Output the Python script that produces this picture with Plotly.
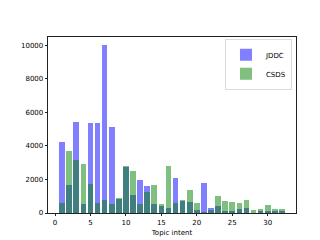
import plotly.graph_objects as go

topics = list(range(1, 33))
jddc = [4240, 1650, 5455, 530, 5358, 5358, 10000, 5130, 810, 2760,
        1095, 1950, 1600, 528, 430, 320, 2060, 700, 640, 205,
        1790, 285, 390, 130, 100, 210, 275, 30, 100, 115, 100, 130]
csds = [625, 3670, 3160, 2915, 1740, 585, 775, 528, 870, 2820,
        2535, 528, 1230, 1665, 510, 2820, 585, 755, 1380, 575,
        80, 170, 1040, 700, 640, 585, 795, 190, 250, 455, 255, 265]
x_ticks = [0, 5, 10, 15, 20, 25, 30]
y_ticks = [0, 2000, 4000, 6000, 8000, 10000]
y_labels = [str(v) for v in y_ticks]

fig = go.Figure()
fig.add_trace(go.Bar(x=topics, y=jddc, name="JDDC", width=0.8,
                     marker=dict(color="rgba(0,0,255,0.5)", line=dict(width=0))))
fig.add_trace(go.Bar(x=topics, y=csds, name="CSDS", width=0.8,
                     marker=dict(color="rgba(0,128,0,0.5)", line=dict(width=0))))

axis_common = dict(showgrid=False, zeroline=False, showline=True, mirror=True,
                   linecolor="#222", linewidth=0.7, ticks="outside", ticklen=2.5,
                   tickwidth=0.7, tickcolor="#222",
                   tickfont=dict(family="DejaVu Sans", size=7, color="black"))
fig.update_layout(
    width=320, height=240,
    margin=dict(l=40, r=32, t=29, b=26),
    plot_bgcolor="white", paper_bgcolor="white",
    barmode="overlay", bargap=0,
    font=dict(family="DejaVu Sans", size=7, color="black"),
    xaxis=dict(range=[-0.99, 33.99], tickvals=x_ticks,
               title=dict(text="Topic intent", font=dict(size=7), standoff=4),
               **axis_common),
    yaxis=dict(range=[0, 10500], tickvals=y_ticks, ticktext=y_labels, **axis_common),
    legend=dict(x=0.985, y=0.985, xanchor="right", yanchor="top",
                bgcolor="rgba(255,255,255,0.8)", bordercolor="#ccc", borderwidth=0.7,
                font=dict(size=7), itemwidth=30, tracegroupgap=0,
                itemsizing="constant"),
    showlegend=True,
)
fig.write_html("out.html")
